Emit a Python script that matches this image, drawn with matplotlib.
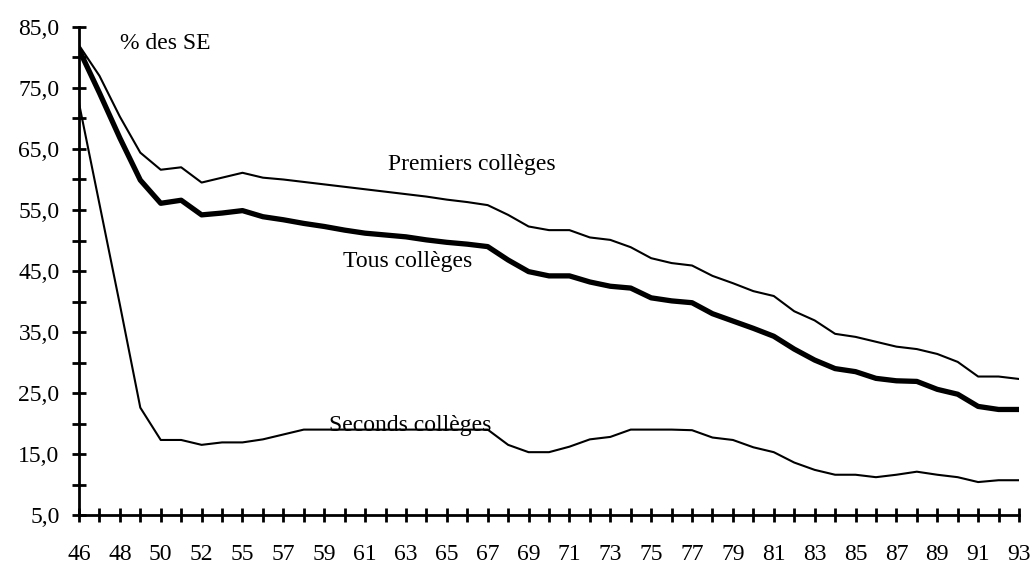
import matplotlib.pyplot as plt
import numpy as np

# années (la 8e catégorie n'est pas étiquetée sur le graphique)
annees = ['46', '47', '48', '49', '50', '51', '52', '53', '55', '56', '57', '58',
          '59', '60', '61', '62', '63', '64', '65', '66', '67', '68', '69', '70',
          '71', '72', '73', '74', '75', '76', '77', '78', '79', '80', '81', '82',
          '83', '84', '85', '86', '87', '88', '89', '90', '91', '92', '93']

premiers = [82.0, 77.0, 70.3, 64.4, 61.6, 62.0, 59.5, 60.3, 61.1, 60.3, 60.0, 59.6,
            59.2, 58.8, 58.4, 58.0, 57.6, 57.2, 56.7, 56.3, 55.8, 54.2, 52.3, 51.7,
            51.7, 50.5, 50.1, 48.9, 47.1, 46.3, 45.9, 44.2, 43.0, 41.7, 40.9, 38.4,
            36.9, 34.7, 34.2, 33.4, 32.6, 32.2, 31.4, 30.1, 27.7, 27.7, 27.3]

tous = [81.3, 74.2, 66.8, 59.9, 56.1, 56.6, 54.2, 54.5, 54.9, 53.9, 53.4, 52.8,
        52.3, 51.7, 51.2, 50.9, 50.6, 50.1, 49.7, 49.4, 49.0, 46.8, 44.9, 44.2,
        44.2, 43.2, 42.5, 42.2, 40.6, 40.1, 39.8, 38.0, 36.8, 35.6, 34.3, 32.2,
        30.4, 29.0, 28.5, 27.4, 27.0, 26.9, 25.6, 24.8, 22.8, 22.3, 22.3]

seconds = [72.5, 56.0, 39.5, 22.6, 17.3, 17.3, 16.5, 16.9, 16.9, 17.4, 18.2, 19.0,
           19.0, 19.0, 19.0, 19.0, 19.0, 19.0, 19.0, 19.0, 19.0, 16.5, 15.3, 15.3,
           16.2, 17.4, 17.8, 19.0, 19.0, 19.0, 18.9, 17.7, 17.3, 16.1, 15.3, 13.6,
           12.4, 11.6, 11.6, 11.2, 11.6, 12.1, 11.6, 11.2, 10.4, 10.7, 10.7]

plt.rcParams['font.family'] = ['Liberation Serif', 'DejaVu Serif']

fig = plt.figure(figsize=(10.34, 5.69), dpi=100)
ax = fig.add_axes([79 / 1034, 54 / 569, 940 / 1034, 488 / 569])

x = np.arange(len(annees))
ax.plot(x, premiers, color='black', lw=1.5)
ax.plot(x, tous, color='black', lw=3.8)
ax.plot(x, seconds, color='black', lw=1.5)

ax.set_xlim(0, len(annees) - 1)
ax.set_ylim(5, 85)

ax.set_xticks(x)
ax.set_xticklabels([a if i % 2 == 0 else '' for i, a in enumerate(annees)])
ax.set_yticks(np.arange(5, 86, 10))
ax.set_yticklabels([f'{v:.1f}'.replace('.', ',') for v in np.arange(5, 86, 10)])
ax.set_yticks(np.arange(10, 85, 10), minor=True)

for s in ['top', 'right']:
    ax.spines[s].set_visible(False)
for s in ['left', 'bottom']:
    ax.spines[s].set_linewidth(2)

ax.tick_params(axis='both', which='both', direction='inout', length=10,
               width=2, labelsize=17)
ax.tick_params(axis='x', pad=16)
ax.tick_params(axis='y', pad=9)

ax.text(2.0, 82.3, '% des SE', fontsize=17, ha='left', va='center')
ax.text(19.2, 62.4, 'Premiers collèges', fontsize=17, ha='center', va='center')
ax.text(16.1, 46.5, 'Tous collèges', fontsize=17, ha='center', va='center')
ax.text(16.2, 19.7, 'Seconds collèges', fontsize=17, ha='center', va='center')

fig.savefig('out.png', dpi=100)
